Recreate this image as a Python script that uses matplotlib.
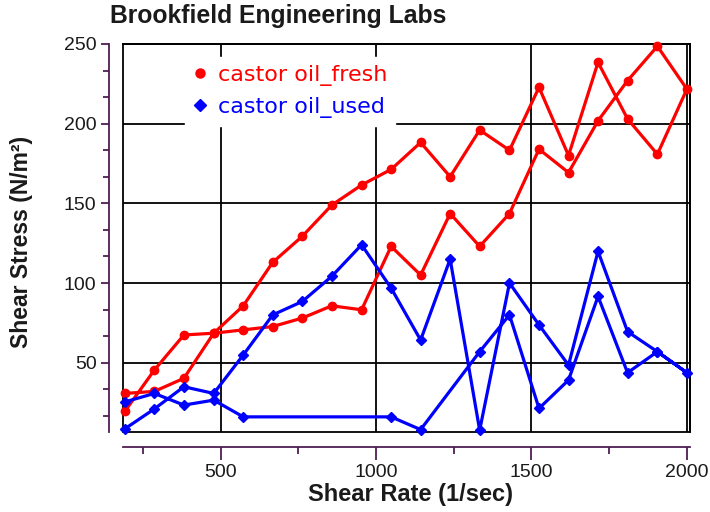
import matplotlib
matplotlib.use("Agg")
import matplotlib.pyplot as plt
from matplotlib.lines import Line2D
from matplotlib.patches import Rectangle
from matplotlib.ticker import AutoMinorLocator, FixedLocator

# ---- data ----
fresh_rate = [192, 287, 382, 478, 573, 668, 763, 858, 954, 1049, 1144, 1239, 1334, 1430, 1525,
              1620, 1715, 1810, 1906, 2001,
              1906, 1810, 1715, 1620, 1525, 1430, 1334, 1239, 1144, 1049, 954, 858, 763, 668,
              573, 478, 382, 287, 192]
fresh_stress = [19.5, 45.4, 67.4, 68.5, 70.6, 72.7, 78.0, 85.7, 83.2, 123.0, 105.0, 143.6, 123.0,
                143.6, 184.0, 169.3, 201.8, 227.0, 248.6, 221.7,
                180.8, 203.0, 238.5, 180.0, 222.8, 183.3, 196.0, 166.7, 188.2, 171.3, 161.5,
                148.9, 129.3, 113.0, 85.7, 68.5, 40.2, 32.0, 30.7]

used_rate = [192, 287, 382, 478, 573, 668, 763, 858, 954, 1049, 1144, 1239, 1334, 1430, 1525,
             1620, 1715, 1810, 1906, 2001,
             1906, 1810, 1715, 1620, 1525, 1430, 1334, 1144, 1049, 573, 478, 382, 287, 192]
used_stress = [8.5, 21.0, 34.9, 30.7, 54.8, 80.0, 88.4, 104.2, 124.0, 96.8, 64.2, 115.0, 7.6,
               100.0, 73.7, 48.5, 119.9, 69.5, 56.9, 43.7,
               56.9, 43.7, 91.6, 39.1, 21.3, 80.0, 56.9, 8.0, 16.0, 16.0, 26.5, 23.4, 30.7, 25.4]

series_names = ["castor oil_fresh", "castor oil_used"]
x_ticks = [500, 1000, 1500, 2000]
y_ticks = [50, 100, 150, 200, 250]

title = "Brookfield Engineering Labs"
x_label = "Shear Rate (1/sec)"
y_label = "Shear Stress (N/m²)"

# ---- figure ----
W, H = 710, 512
fig = plt.figure(figsize=(W / 100, H / 100), dpi=100)
L, R, T, B = 123, 690, 44, 432
ax = fig.add_axes([L / W, 1 - B / H, (R - L) / W, (B - T) / H])

axis_col = "#4e1f52"

ax.plot(fresh_rate, fresh_stress, color="#ff0000", lw=2.3, marker="o", ms=6,
        zorder=3, clip_on=False)
ax.plot(used_rate, used_stress, color="#0000ff", lw=2.3, marker="D", ms=5.5,
        zorder=3, clip_on=False)

ax.set_xlim(186, 2011)
ax.set_ylim(6.5, 250)

ax.xaxis.set_major_locator(FixedLocator(x_ticks))
ax.yaxis.set_major_locator(FixedLocator(y_ticks))
ax.xaxis.set_minor_locator(AutoMinorLocator(2))
ax.yaxis.set_minor_locator(AutoMinorLocator(3))

ax.grid(True, which="major", color="black", lw=1.3, zorder=1)
ax.set_axisbelow(True)

for s in ["top", "right"]:
    ax.spines[s].set_color("black")
    ax.spines[s].set_linewidth(1.3)
ax.spines["left"].set_position(("outward", 10))
ax.spines["bottom"].set_position(("outward", 11))
for s in ["left", "bottom"]:
    ax.spines[s].set_color(axis_col)
    ax.spines[s].set_linewidth(1.3)

ax.add_patch(Rectangle((0, 0), 1, 1, transform=ax.transAxes, fill=False,
                       ec="black", lw=1.3, zorder=1.5, clip_on=False))

ax.tick_params(axis="x", which="major", length=9, width=1.3, color=axis_col, pad=3,
               labelsize=14, labelcolor="#1a1a1a")
ax.tick_params(axis="x", which="minor", length=5, width=1.3, color=axis_col)
ax.tick_params(axis="y", which="major", length=6, width=1.3, color=axis_col, pad=3,
               labelsize=14, labelcolor="#1a1a1a")
ax.tick_params(axis="y", which="minor", length=4, width=1.3, color=axis_col)
for lab in ax.get_xticklabels() + ax.get_yticklabels():
    lab.set_family("Liberation Sans")

# legend
handles = [Line2D([], [], ls="none", marker="o", color="#ff0000", ms=6.5),
           Line2D([], [], ls="none", marker="D", color="#0000ff", ms=6)]
leg = ax.legend(handles, series_names, loc="upper left",
                bbox_to_anchor=((185 - L) / (R - L), 1 - (57 - T) / (B - T)),
                frameon=True, fancybox=False, framealpha=1, edgecolor="white",
                facecolor="white", handlelength=0.65, handletextpad=0.5,
                borderpad=0.35, labelspacing=0.5, borderaxespad=0,
                prop=dict(family="DejaVu Sans", size=16))
for txt, c in zip(leg.get_texts(), ["#ff0000", "#0000ff"]):
    txt.set_color(c)
leg.set_zorder(5)

fig.text(110 / W, 1 - 16 / H, title, ha="left", va="center",
         family="Liberation Sans", weight="bold", size=17.8, color="#1a1a1a")
fig.text(410 / W, 1 - 495 / H, x_label, ha="center", va="center",
         family="Liberation Sans", weight="bold", size=17, color="#1a1a1a")
fig.text(22 / W, 1 - 242 / H, y_label, ha="center", va="center", rotation=90,
         family="Liberation Sans", weight="bold", size=16.5, color="#1a1a1a")

fig.savefig("out.png", dpi=100)
